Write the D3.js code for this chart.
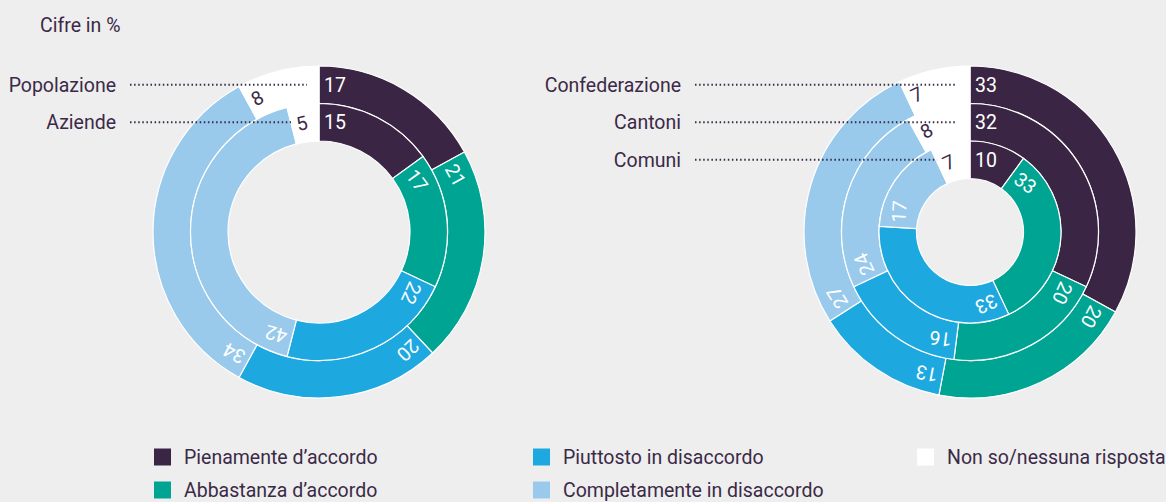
<!DOCTYPE html>
<html>
<head>
<meta charset="utf-8">
<script src="https://cdn.jsdelivr.net/npm/d3@7"></script>
<style>
  html, body { margin: 0; padding: 0; background: #eeeeee; }
  svg { display: block; font-family: Roboto, "Liberation Sans", sans-serif; }
</style>
</head>
<body>
<div class="display"></div>
<script>
// Two nested donut charts, answers in percent

const WIDTH = 1166;
const HEIGHT = 502;

const TEXT_COLOR = '#3b2a47';
const FONT_SIZE = 19.5;

// Answer categories and colours
const categories = ['Pienamente d’accordo', 'Abbastanza d’accordo', 'Piuttosto in disaccordo', 'Completamente in disaccordo', 'Non so/nessuna risposta'];
const colors = ['#3a2644', '#00a492', '#1ea8e0', '#99caec', '#ffffff'];

// Left chart, outer ring first
const leftRings = ['Popolazione', 'Aziende'];
const popolazione = [17, 21, 20, 34, 8];
const aziende = [15, 17, 22, 42, 5];

// Right chart, outer ring first
const rightRings = ['Confederazione', 'Cantoni', 'Comuni'];
const confederazione = [33, 20, 13, 27, 7];
const cantoni = [32, 20, 16, 24, 8];
const comuni = [10, 33, 33, 17, 7];

const OUTER_RADIUS = 166;
const RING_WIDTH = 37.5;

const angleScale = d3.scaleLinear()
  .domain([0, 100])
  .range([0, 2 * Math.PI])
  .clamp(true);

const svg = d3.select('.display')
  .append('svg')
  .attr('width', WIDTH)
  .attr('height', HEIGHT);

svg.append('text')
  .attr('x', 40)
  .attr('y', 32)
  .attr('font-size', FONT_SIZE)
  .attr('fill', TEXT_COLOR)
  .text('Cifre in %');

// Draw one nested donut
function drawDonut(cx, cy, ringNames, ringValues, labelRight, lineEnds) {
  const g = svg.append('g').attr('transform', `translate(${cx}, ${cy})`);

  ringValues.forEach((values, r) => {
    const outer = OUTER_RADIUS - r * RING_WIDTH;
    const inner = outer - RING_WIDTH;
    const mid = (outer + inner) / 2;

    let cum = 0;
    const arcs = values.map((v, i) => {
      const a = { value: v, index: i, startAngle: angleScale(cum), endAngle: angleScale(cum + v) };
      cum += v;
      return a;
    });

    const arc = d3.arc().innerRadius(inner).outerRadius(outer);

    g.selectAll(`.arc-${r}`)
      .data(arcs)
      .enter()
      .append('path')
      .attr('class', `arc-${r}`)
      .attr('d', arc)
      .attr('fill', d => colors[d.index])
      .attr('stroke', '#ffffff')
      .attr('stroke-width', 1.2);

    g.selectAll(`.label-${r}`)
      .data(arcs)
      .enter()
      .append('text')
      .attr('class', `label-${r}`)
      .attr('transform', d => `rotate(${d.startAngle * 180 / Math.PI}) translate(0, ${-mid})`)
      .attr('x', 5)
      .attr('dy', '0.36em')
      .attr('font-size', FONT_SIZE)
      .attr('fill', d => d.index === 4 ? TEXT_COLOR : '#ffffff')
      .text(d => d.value);

    // Leader line and ring name
    svg.append('line')
      .attr('x1', labelRight + 14)
      .attr('x2', cx - lineEnds[r])
      .attr('y1', cy - mid)
      .attr('y2', cy - mid)
      .attr('stroke', TEXT_COLOR)
      .attr('stroke-width', 2)
      .attr('stroke-dasharray', '1.5,2.6');

    svg.append('text')
      .attr('x', labelRight)
      .attr('y', cy - mid)
      .attr('dy', '0.36em')
      .attr('text-anchor', 'end')
      .attr('font-size', FONT_SIZE)
      .attr('fill', TEXT_COLOR)
      .text(ringNames[r]);
  });
}

drawDonut(319, 232, leftRings, [popolazione, aziende], 116, [12, 28]);
drawDonut(970, 232, rightRings, [confederazione, cantoni, comuni], 681, [13, 13, 33]);

// Legend
const legendPos = [[154, 457], [154, 490], [533, 457], [533, 490], [917, 457]];
const legend = svg.selectAll('.legend')
  .data(categories)
  .enter()
  .append('g')
  .attr('class', 'legend')
  .attr('transform', (d, i) => `translate(${legendPos[i][0]}, ${legendPos[i][1]})`);

legend.append('rect')
  .attr('x', 0)
  .attr('y', -8.5)
  .attr('width', 17)
  .attr('height', 17)
  .attr('fill', (d, i) => colors[i]);

legend.append('text')
  .attr('x', 30)
  .attr('dy', '0.36em')
  .attr('font-size', FONT_SIZE)
  .attr('fill', TEXT_COLOR)
  .text(d => d);
</script>
</body>
</html>
